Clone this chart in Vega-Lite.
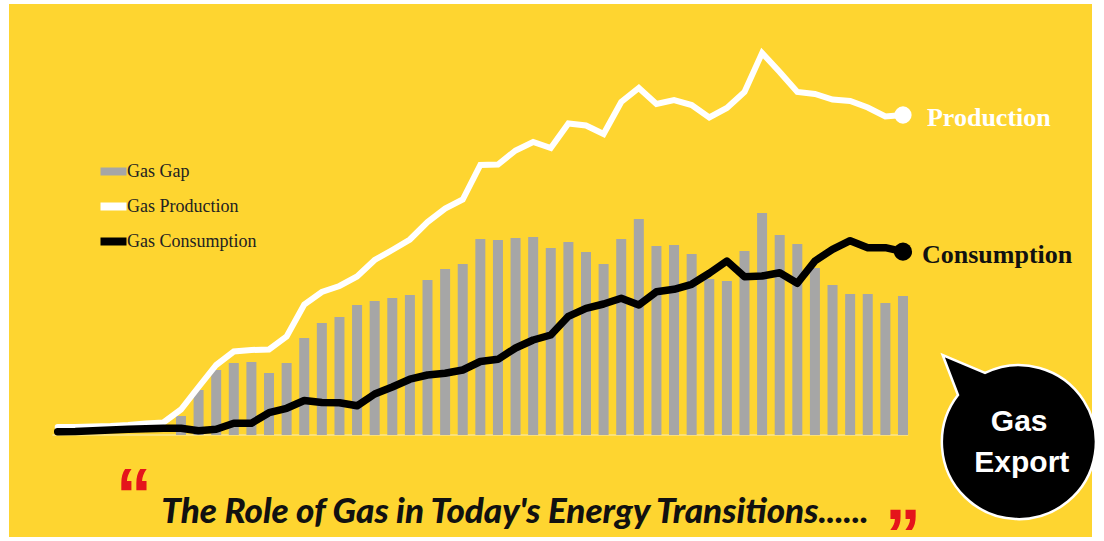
{
  "$schema": "https://vega.github.io/schema/vega-lite/v6.json",
  "width": 1083,
  "height": 533,
  "autosize": {"type": "none"},
  "padding": {"left": 9, "top": 4, "right": 12, "bottom": 4},
  "background": "#FFFFFF",
  "config": {
    "view": {"stroke": null, "fill": "#FED530"},
    "legend": {
      "orient": "none",
      "legendX": 87.5,
      "legendY": 150.5,
      "title": null,
      "padding": 0,
      "symbolType": "stroke",
      "symbolSize": 676,
      "symbolStrokeWidth": 8,
      "symbolOpacity": 1,
      "labelFont": "Liberation Serif",
      "labelFontSize": 18,
      "labelColor": "#222222",
      "labelOffset": -3.5,
      "rowPadding": 2
    }
  },
  "data": {
    "values": [
      {"year": 1970, "production": 8, "consumption": 3.3},
      {"year": 1971, "production": 8, "consumption": 3.5},
      {"year": 1972, "production": 8.5, "consumption": 4.3},
      {"year": 1973, "production": 9, "consumption": 5},
      {"year": 1974, "production": 10, "consumption": 5.7},
      {"year": 1975, "production": 11.5, "consumption": 6.2},
      {"year": 1976, "production": 12.5, "consumption": 6.7},
      {"year": 1977, "production": 25.5, "consumption": 6.7, "gap": 19},
      {"year": 1978, "production": 48, "consumption": 4.3, "gap": 45},
      {"year": 1979, "production": 70, "consumption": 5.7, "gap": 65},
      {"year": 1980, "production": 83.5, "consumption": 11.7, "gap": 72},
      {"year": 1981, "production": 85, "consumption": 11.7, "gap": 73},
      {"year": 1982, "production": 85.5, "consumption": 22.3, "gap": 62},
      {"year": 1983, "production": 98.5, "consumption": 26.7, "gap": 72},
      {"year": 1984, "production": 130.5, "consumption": 34.5, "gap": 97},
      {"year": 1985, "production": 143, "consumption": 32.5, "gap": 112},
      {"year": 1986, "production": 149, "consumption": 32.3, "gap": 118},
      {"year": 1987, "production": 158.5, "consumption": 29.2, "gap": 130},
      {"year": 1988, "production": 175, "consumption": 41, "gap": 134},
      {"year": 1989, "production": 185, "consumption": 48, "gap": 137},
      {"year": 1990, "production": 195.5, "consumption": 55.8, "gap": 140},
      {"year": 1991, "production": 213, "consumption": 60, "gap": 155},
      {"year": 1992, "production": 226.5, "consumption": 61.7, "gap": 166},
      {"year": 1993, "production": 235.5, "consumption": 65, "gap": 171},
      {"year": 1994, "production": 270, "consumption": 73.5, "gap": 196},
      {"year": 1995, "production": 270.5, "consumption": 75.7, "gap": 195},
      {"year": 1996, "production": 284.5, "consumption": 87, "gap": 197},
      {"year": 1997, "production": 293, "consumption": 95, "gap": 198},
      {"year": 1998, "production": 287, "consumption": 100, "gap": 187},
      {"year": 1999, "production": 311.5, "consumption": 118.7, "gap": 193},
      {"year": 2000, "production": 309.5, "consumption": 126.7, "gap": 183},
      {"year": 2001, "production": 301, "consumption": 131, "gap": 171},
      {"year": 2002, "production": 333, "consumption": 136.7, "gap": 196},
      {"year": 2003, "production": 347, "consumption": 130, "gap": 216},
      {"year": 2004, "production": 331, "consumption": 143.3, "gap": 189},
      {"year": 2005, "production": 335, "consumption": 145.7, "gap": 190},
      {"year": 2006, "production": 330, "consumption": 150.7, "gap": 181},
      {"year": 2007, "production": 317.5, "consumption": 161.7, "gap": 156},
      {"year": 2008, "production": 327, "consumption": 174, "gap": 154},
      {"year": 2009, "production": 343, "consumption": 158.3, "gap": 184},
      {"year": 2010, "production": 382, "consumption": 159, "gap": 222},
      {"year": 2011, "production": 363, "consumption": 162.3, "gap": 200},
      {"year": 2012, "production": 343, "consumption": 151.7, "gap": 191},
      {"year": 2013, "production": 341, "consumption": 174, "gap": 167},
      {"year": 2014, "production": 335.5, "consumption": 185.7, "gap": 150},
      {"year": 2015, "production": 334, "consumption": 194.3, "gap": 141},
      {"year": 2016, "production": 327.5, "consumption": 187.3, "gap": 141},
      {"year": 2017, "production": 318.5, "consumption": 187.3, "gap": 132},
      {"year": 2018, "production": 320, "consumption": 183.3, "gap": 139}
    ]
  },
  "encoding": {
    "x": {"field": "year", "type": "quantitative", "scale": {"domain": [1967.2345, 2028.734], "nice": false, "zero": false, "padding": 0}, "axis": null}
  },
  "layer": [
    {
      "transform": [{"filter": "datum.year == 2018"}],
      "mark": {"type": "rule", "color": "#FBE48E", "strokeWidth": 1.5},
      "encoding": {
        "x": {"datum": 1969.7, "type": "quantitative"},
        "x2": {"datum": 2018.3},
        "y": {"datum": 0, "type": "quantitative", "scale": {"domain": [-102, 431], "nice": false, "zero": false, "padding": 0}, "axis": null}
      }
    },
    {
      "mark": {"type": "bar", "width": 10},
      "encoding": {
        "y": {"field": "gap", "type": "quantitative"},
        "color": {"datum": "Gas Gap", "scale": {"domain": ["Gas Gap", "Gas Production", "Gas Consumption"], "range": ["#A6A6A6", "#FFFFFF", "#000000"]}}
      }
    },
    {
      "mark": {"type": "line", "strokeWidth": 6, "strokeCap": "round", "strokeJoin": "miter"},
      "encoding": {
        "y": {"field": "production", "type": "quantitative"},
        "color": {"datum": "Gas Production"}
      }
    },
    {
      "transform": [{"filter": "datum.year == 2018"}],
      "mark": {"type": "circle", "size": 300, "opacity": 1, "color": "#FFFFFF"},
      "encoding": {
        "y": {"field": "production", "type": "quantitative"}
      }
    },
    {
      "mark": {"type": "line", "strokeWidth": 7.5, "strokeCap": "round", "strokeJoin": "round"},
      "encoding": {
        "y": {"field": "consumption", "type": "quantitative"},
        "color": {"datum": "Gas Consumption"}
      }
    },
    {
      "transform": [{"filter": "datum.year == 2018"}],
      "mark": {"type": "circle", "size": 330, "opacity": 1, "color": "#000000"},
      "encoding": {
        "y": {"field": "consumption", "type": "quantitative"}
      }
    },
    {
      "transform": [{"filter": "datum.year == 2018"}],
      "mark": {"type": "text", "text": "Production", "font": "Liberation Serif", "fontWeight": "bold", "fontSize": 26, "color": "#FFFFFF", "align": "left", "baseline": "middle", "dx": 24, "dy": 3},
      "encoding": {
        "y": {"field": "production", "type": "quantitative"}
      }
    },
    {
      "transform": [{"filter": "datum.year == 2018"}],
      "mark": {"type": "text", "text": "Consumption", "font": "Liberation Serif", "fontWeight": "bold", "fontSize": 26, "color": "#111111", "align": "left", "baseline": "middle", "dx": 19, "dy": 3},
      "encoding": {
        "y": {"field": "consumption", "type": "quantitative"}
      }
    },
    {
      "transform": [{"filter": "datum.year == 2018"}],
      "mark": {"type": "point", "shape": "M -0.857 -0.63 L -1.056 -1.149 L -0.506 -0.916 A 1 1 0 1 1 -0.857 -0.63 Z", "size": 23716, "filled": true, "fill": "#000000", "stroke": "#FFFFFF", "strokeWidth": 2.5, "opacity": 1},
      "encoding": {
        "x": {"datum": 2024.87, "type": "quantitative"},
        "y": {"datum": -8.5, "type": "quantitative"}
      }
    },
    {
      "transform": [{"filter": "datum.year == 2018"}],
      "mark": {"type": "text", "text": "Gas", "font": "Liberation Sans", "fontWeight": "bold", "fontSize": 30, "color": "#FFFFFF", "align": "center", "baseline": "middle"},
      "encoding": {
        "x": {"datum": 2024.6, "type": "quantitative"},
        "y": {"datum": 13.5, "type": "quantitative"}
      }
    },
    {
      "transform": [{"filter": "datum.year == 2018"}],
      "mark": {"type": "text", "text": "Export", "font": "Liberation Sans", "fontWeight": "bold", "fontSize": 30, "color": "#FFFFFF", "align": "center", "baseline": "middle"},
      "encoding": {
        "x": {"datum": 2024.75, "type": "quantitative"},
        "y": {"datum": -28, "type": "quantitative"}
      }
    },
    {
      "transform": [{"filter": "datum.year == 2018"}],
      "mark": {"type": "text", "text": "The Role of Gas in Today's Energy Transitions......", "font": "Lato", "fontWeight": 900, "fontStyle": "italic", "fontSize": 35, "color": "#111111", "align": "center", "baseline": "alphabetic"},
      "encoding": {
        "x": {"datum": 1995.97, "type": "quantitative"},
        "y": {"datum": -88, "type": "quantitative"}
      }
    },
    {
      "transform": [{"filter": "datum.year == 2018"}],
      "mark": {"type": "text", "text": "\u201c", "font": "Liberation Sans", "fontWeight": "bold", "fontSize": 72, "color": "#E5141B", "align": "center", "baseline": "alphabetic"},
      "encoding": {
        "x": {"datum": 1974.33, "type": "quantitative"},
        "y": {"datum": -84, "type": "quantitative"}
      }
    },
    {
      "transform": [{"filter": "datum.year == 2018"}],
      "mark": {"type": "text", "text": "\u201e", "font": "Liberation Sans", "fontWeight": "bold", "fontSize": 72, "color": "#E5141B", "align": "center", "baseline": "alphabetic"},
      "encoding": {
        "x": {"datum": 2018, "type": "quantitative"},
        "y": {"datum": -83.5, "type": "quantitative"}
      }
    }
  ]
}
